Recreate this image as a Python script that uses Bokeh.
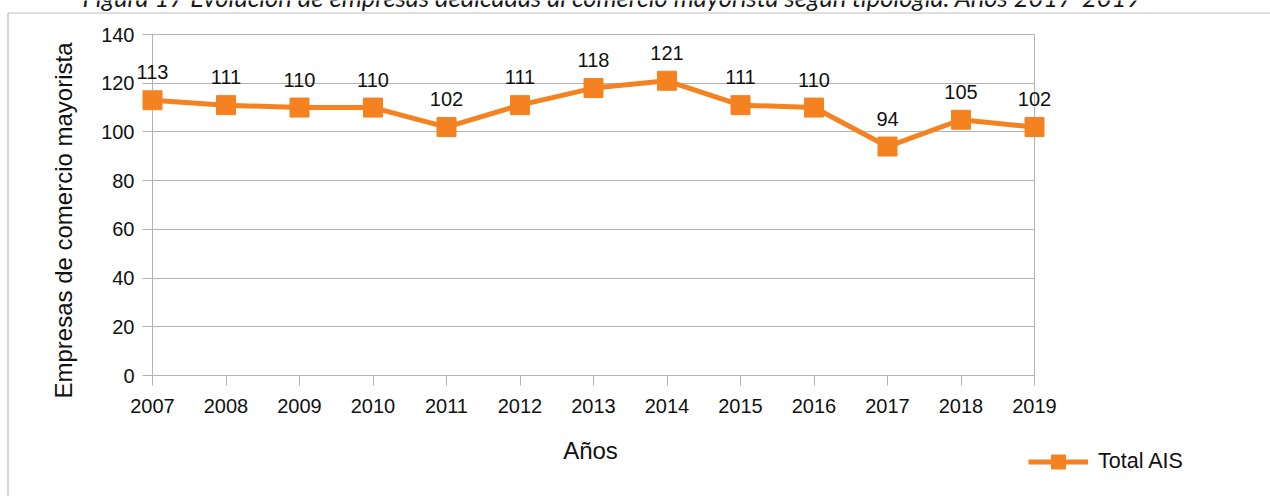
import math
from bokeh.plotting import figure
from bokeh.layouts import column
from bokeh.models import (ColumnDataSource, LabelSet, Label, Legend, LegendItem,
                          FixedTicker, Range1d, BoxAnnotation)
from bokeh.core.properties import value
from bokeh.embed import file_html
from bokeh.resources import INLINE

# ---- data ----
years = [2007, 2008, 2009, 2010, 2011, 2012, 2013, 2014, 2015, 2016, 2017, 2018, 2019]
values = [113, 111, 110, 110, 102, 111, 118, 121, 111, 110, 94, 105, 102]
y_ticks = [0, 20, 40, 60, 80, 100, 120, 140]
series_name = "Total AIS"
title_text = "Figura 17  Evolución de empresas dedicadas al comercio mayorista según tipología. Años 2017-2019"
x_label = "Años"
y_label = "Empresas de comercio mayorista"

# ---- styling / geometry ----
ORANGE = "#f58220"
GRID = "#b3b3b3"
TXT = "#111111"
FONT = "Liberation Sans"
W, H = 1270, 496
FL, FR, FT, FB = 152, 1034, 34, 375   # plot-area edges in page pixels

# ---- base figure: axes, grid, plot-area outline ----
base = figure(width=W, height=H, output_backend="svg", toolbar_location=None,
              x_range=Range1d(years[0], years[-1]), y_range=Range1d(y_ticks[0], y_ticks[-1]),
              min_border_left=FL, min_border_right=W - FR,
              min_border_top=FT, min_border_bottom=H - FB, title=None)
base.border_fill_color = "white"
base.background_fill_color = "white"
base.outline_line_color = GRID
base.outline_line_width = 1
for ax in (base.xaxis[0], base.yaxis[0]):
    ax.axis_line_color = GRID
    ax.major_tick_line_color = GRID
    ax.major_tick_out = 10
    ax.major_tick_in = 0
    ax.minor_tick_line_color = None
    ax.major_label_text_font = FONT
    ax.major_label_text_font_size = "20px"
    ax.major_label_text_color = TXT
base.xaxis.ticker = FixedTicker(ticks=years)
base.yaxis.ticker = FixedTicker(ticks=y_ticks)
base.xaxis.major_label_standoff = 13
base.yaxis.major_label_standoff = 8
base.xgrid.visible = False
base.ygrid.ticker = FixedTicker(ticks=y_ticks)
base.ygrid.grid_line_color = GRID
base.ygrid.grid_line_width = 1

# ---- overlay figure: same scales, frame = whole canvas (no clipping of marks) ----
kx = (FR - FL) / (years[-1] - years[0])
ky = (FB - FT) / (y_ticks[-1] - y_ticks[0])
ox_range = Range1d(years[0] - FL / kx, years[0] + (W - FL) / kx)
oy_range = Range1d(y_ticks[0] - (H - FB) / ky, y_ticks[0] + FB / ky)
top = figure(width=W, height=H, output_backend="svg", toolbar_location=None,
             x_range=ox_range, y_range=oy_range, x_axis_type=None, y_axis_type=None,
             min_border_left=0, min_border_right=0, min_border_top=0, min_border_bottom=0,
             title=None, margin=(-H, 0, 0, 0))
top.xgrid.visible = False
top.ygrid.visible = False
top.background_fill_color = None
top.border_fill_color = None
top.outline_line_color = None

for f in (base, top):
    try:
        f.frame_align = False
    except Exception:
        pass

src = ColumnDataSource(data=dict(year=years, value=values, label=[str(v) for v in values]))
line_r = top.line(x="year", y="value", source=src, line_color=ORANGE, line_width=5)
mark_r = top.scatter(x="year", y="value", source=src, marker="square", size=19,
                     fill_color=ORANGE, line_color=ORANGE)

labels = LabelSet(x="year", y="value", text="label", source=src, y_offset=28,
                  text_align="center", text_baseline="middle",
                  text_font=value(FONT), text_font_size="20px", text_color=TXT)
top.add_layout(labels)

LEG_H = 35
legend = Legend(items=[LegendItem(label=series_name, renderers=[line_r, mark_r])],
                location=(1028, H - 461 - LEG_H / 2), glyph_width=60, glyph_height=LEG_H,
                label_standoff=10, padding=0, margin=0, spacing=0,
                border_line_color=None, background_fill_alpha=0,
                label_text_font=FONT, label_text_font_size="21.5px", label_text_color=TXT)
top.add_layout(legend)

box = BoxAnnotation(left=7.5, right=W + 50, top=H - 12.5, bottom=-50,
                    left_units="screen", right_units="screen",
                    top_units="screen", bottom_units="screen",
                    fill_alpha=0, line_color="#222222", line_width=1.2)
top.add_layout(box)

title = Label(x=82, y=H + 4, x_units="screen", y_units="screen", text=title_text,
              text_align="left", text_baseline="alphabetic",
              text_font="Lato", text_font_style="italic", text_font_size="25.5px",
              text_color="#1a1a1a")
top.add_layout(title)

ylab = Label(x=63, y=H - 220, x_units="screen", y_units="screen", text=y_label,
             angle=math.pi / 2, text_align="center", text_baseline="middle",
             text_font=FONT, text_font_size="24px", text_color=TXT)
top.add_layout(ylab)

xlab = Label(x=(FL + FR) / 2 - 3, y=H - 450, x_units="screen", y_units="screen", text=x_label,
             text_align="center", text_baseline="middle",
             text_font=FONT, text_font_size="24px", text_color=TXT)
top.add_layout(xlab)

page = column(base, top, spacing=0)
open("out.html", "w").write(file_html(page, INLINE))
